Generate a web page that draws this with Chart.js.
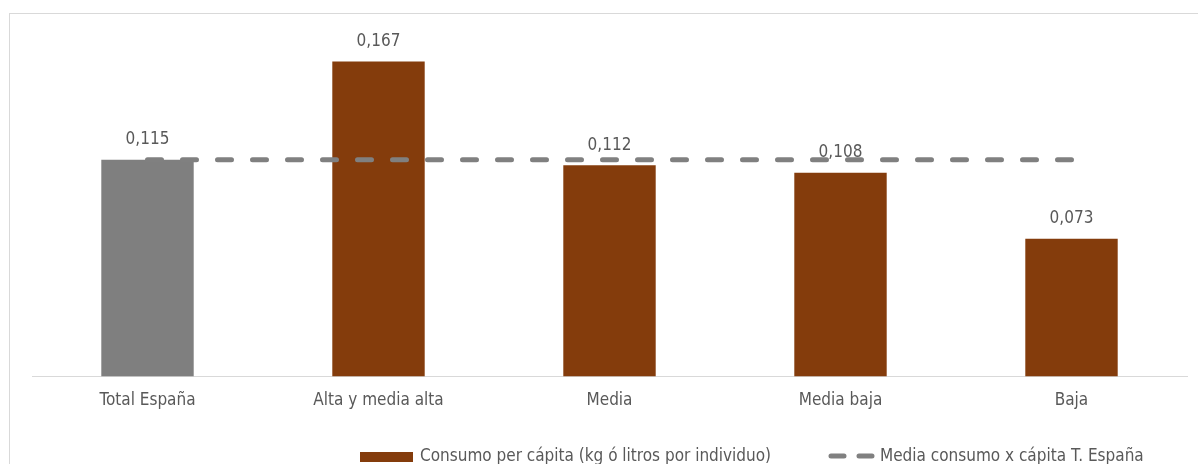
<!DOCTYPE html>
<html>
<head>
<meta charset="utf-8">
<script src="https://cdn.jsdelivr.net/npm/chart.js@4"></script>
<style>
  html, body { margin: 0; padding: 0; background: #fff; overflow: hidden; width: 1198px; height: 464px; }
  .frame { position: absolute; left: 9px; top: 13px; width: 1300px; height: 600px; border: 1px solid #d9d9d9; border-right: none; border-bottom: none; }
  #chart { position: absolute; left: 0; top: 0; }
</style>
</head>
<body>
<div class="frame"></div>
<canvas id="chart" width="1198" height="464"></canvas>
<script>
const categories = ["Total España", "Alta y media alta", "Media", "Media baja", "Baja"];
const consumo = [0.115, 0.167, 0.112, 0.108, 0.073];
const mediaEspana = [0.115, 0.115, 0.115, 0.115, 0.115];
const legendLabels = ["Consumo per cápita (kg ó litros por individuo)", "Media consumo x cápita T. España"];

const FONT = "'Liberation Sans Narrow', 'DejaVu Sans Condensed', sans-serif";
const TEXT = "#595959";
const BROWN = "#843C0C";
const GREY = "#7F7F7F";

// value labels above the bars, drawn before the dashed line goes on top
const barLabels = {
  id: "barLabels",
  afterDatasetDraw(chart, args) {
    if (args.index !== 0) return;
    const ctx = chart.ctx;
    ctx.save();
    ctx.font = "17px " + FONT;
    ctx.fillStyle = TEXT;
    ctx.textAlign = "center";
    ctx.textBaseline = "middle";
    args.meta.data.forEach((bar, i) => {
      ctx.fillText(consumo[i].toFixed(3).replace(".", ","), bar.x, bar.y - 20);
    });
    ctx.restore();
  },
};

// legend at the bottom, like the excel one
const bottomLegend = {
  id: "bottomLegend",
  afterDraw(chart) {
    const ctx = chart.ctx;
    const y = 457;
    ctx.save();
    ctx.font = "17px " + FONT;
    ctx.fillStyle = BROWN;
    ctx.fillRect(360, y - 5, 53, 10);
    ctx.fillStyle = TEXT;
    ctx.textBaseline = "middle";
    ctx.fillText(legendLabels[0], 420, y);
    ctx.strokeStyle = "#808080";
    ctx.lineWidth = 5;
    ctx.lineCap = "round";
    ctx.setLineDash([13, 15]);
    ctx.beginPath();
    ctx.moveTo(831, y - 1);
    ctx.lineTo(872, y - 1);
    ctx.stroke();
    ctx.setLineDash([]);
    ctx.fillText(legendLabels[1], 880, y);
    ctx.restore();
  },
};

new Chart(document.getElementById("chart"), {
  data: {
    labels: categories,
    datasets: [
      {
        type: "bar",
        label: legendLabels[0],
        data: consumo,
        backgroundColor: [GREY, BROWN, BROWN, BROWN, BROWN],
        categoryPercentage: 1,
        barPercentage: 0.4,
        order: 1,
      },
      {
        type: "line",
        label: legendLabels[1],
        data: mediaEspana,
        borderColor: "#808080",
        borderWidth: 5,
        borderDash: [14, 21],
        borderCapStyle: "round",
        pointRadius: 0,
        fill: false,
        order: 0,
      },
    ],
  },
  plugins: [barLabels, bottomLegend],
  options: {
    responsive: false,
    animation: false,
    layout: {
      padding: { left: 32, right: 11, top: 37, bottom: 39 },
    },
    plugins: {
      legend: { display: false },
      tooltip: { enabled: false },
    },
    scales: {
      y: {
        display: false,
        min: 0,
        max: 0.18,
      },
      x: {
        grid: { display: false, drawTicks: false },
        border: { color: "#d9d9d9", width: 1 },
        ticks: {
          padding: 14,
          color: TEXT,
          font: { size: 17, family: FONT },
        },
      },
    },
  },
});
</script>
</body>
</html>
